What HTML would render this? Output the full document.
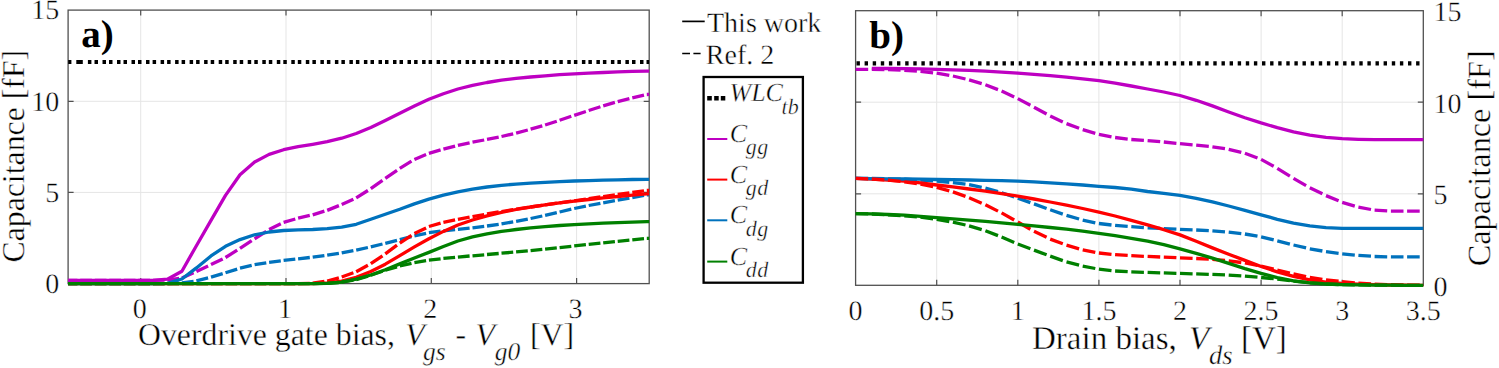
<!DOCTYPE html>
<html lang="en"><head><meta charset="utf-8"><title>Capacitance vs bias</title>
<style>html,body{margin:0;padding:0;background:#fff}svg{display:block}text{text-rendering:geometricPrecision;stroke:#fff;stroke-width:.4px;font-family:"Liberation Serif","Times New Roman",serif;fill:#000}.it{font-style:italic}.b{font-weight:bold;stroke:none}</style>
</head><body>
<svg width="1499" height="368" viewBox="0 0 1499 368">
<rect width="1499" height="368" fill="#fff"/>
<g id="panel-a">
<line x1="140.7" y1="10.1" x2="140.7" y2="283.6" stroke="#e5e5e5" stroke-width="1"/>
<line x1="286.0" y1="10.1" x2="286.0" y2="283.6" stroke="#e5e5e5" stroke-width="1"/>
<line x1="431.3" y1="10.1" x2="431.3" y2="283.6" stroke="#e5e5e5" stroke-width="1"/>
<line x1="576.6" y1="10.1" x2="576.6" y2="283.6" stroke="#e5e5e5" stroke-width="1"/>
<line x1="68.1" y1="192.4" x2="649.2" y2="192.4" stroke="#e5e5e5" stroke-width="1"/>
<line x1="68.1" y1="101.3" x2="649.2" y2="101.3" stroke="#e5e5e5" stroke-width="1"/>
<clipPath id="ca"><rect x="67.8" y="7.1" width="582.0" height="279.5"/></clipPath>
<rect x="68.1" y="10.1" width="581.1" height="273.5" fill="none" stroke="#505050" stroke-width="1.3"/>
<path d="M140.7,283.6v-5.5 M140.7,10.1v5.5" stroke="#505050" stroke-width="1.2"/>
<path d="M286.0,283.6v-5.5 M286.0,10.1v5.5" stroke="#505050" stroke-width="1.2"/>
<path d="M431.3,283.6v-5.5 M431.3,10.1v5.5" stroke="#505050" stroke-width="1.2"/>
<path d="M576.6,283.6v-5.5 M576.6,10.1v5.5" stroke="#505050" stroke-width="1.2"/>
<path d="M68.1,192.4h5.5 M649.2,192.4h-5.5" stroke="#505050" stroke-width="1.2"/>
<path d="M68.1,101.3h5.5 M649.2,101.3h-5.5" stroke="#505050" stroke-width="1.2"/>
<g clip-path="url(#ca)">
<path d="M68.2,62.0h3.2 M76.3,62.0h6.5 M87.9,62.0h3.5 M94.5,62.0h3.5 M102.5,62.0h3.5 M109.0,62.0h3.5 M117.0,62.0h3.5 M123.5,62.0h3.5 M131.5,62.0h3.5 M138.0,62.0h3.5 M146.0,62.0h3.5 M152.6,62.0h3.5 M160.6,62.0h3.5 M167.1,62.0h3.5 M175.1,62.0h3.5 M181.6,62.0h3.5 M189.6,62.0h3.5 M196.1,62.0h3.5 M204.1,62.0h3.5 M210.7,62.0h3.5 M218.7,62.0h3.5 M225.2,62.0h3.5 M233.2,62.0h3.5 M239.7,62.0h3.5 M247.7,62.0h3.5 M254.3,62.0h3.5 M262.3,62.0h3.5 M268.8,62.0h3.5 M276.8,62.0h3.5 M283.3,62.0h3.5 M291.3,62.0h3.5 M297.8,62.0h3.5 M305.8,62.0h3.5 M312.4,62.0h3.5 M320.4,62.0h3.5 M326.9,62.0h3.5 M334.9,62.0h3.5 M341.4,62.0h3.5 M349.4,62.0h3.5 M355.9,62.0h3.5 M363.9,62.0h3.5 M370.5,62.0h3.5 M378.5,62.0h3.5 M385.0,62.0h3.5 M393.0,62.0h3.5 M399.5,62.0h3.5 M407.5,62.0h3.5 M414.1,62.0h3.5 M422.1,62.0h3.5 M428.6,62.0h3.5 M436.6,62.0h3.5 M443.1,62.0h3.5 M451.1,62.0h3.5 M457.6,62.0h3.5 M465.6,62.0h3.5 M472.2,62.0h3.5 M480.2,62.0h3.5 M486.7,62.0h3.5 M494.7,62.0h3.5 M501.2,62.0h3.5 M509.2,62.0h3.5 M515.8,62.0h3.5 M523.8,62.0h3.5 M530.3,62.0h3.5 M538.3,62.0h3.5 M544.8,62.0h3.5 M552.8,62.0h3.5 M559.3,62.0h3.5 M567.3,62.0h3.5 M573.9,62.0h3.5 M581.9,62.0h3.5 M588.4,62.0h3.5 M596.4,62.0h3.5 M602.9,62.0h3.5 M610.9,62.0h3.5 M617.4,62.0h3.5 M625.4,62.0h3.5 M632.0,62.0h3.5 M640.0,62.0h3.5 M646.5,62.0h2.7" stroke="#000" stroke-width="4.1" fill="none"/>
<path d="M68.1,280.3 L77.4,280.3 M80.2,280.3 L91.9,280.3 M94.8,280.3 L106.5,280.3 M109.3,280.3 L121.0,280.3 M123.8,280.3 L135.5,280.3 M138.3,280.3 L150.0,280.3 M152.9,280.3 L164.6,280.2 M167.4,280.1 L179.1,278.4 M181.9,277.9 L193.6,272.8 M196.4,271.5 L208.1,265.9 M211.0,264.6 L222.7,258.9 M225.5,257.5 L237.2,250.1 M240.0,248.3 L251.7,240.6 M254.6,238.8 L266.3,231.4 M269.1,229.6 L280.8,223.8 M283.6,222.4 L295.3,219.0 M298.1,218.2 L309.8,215.4 M312.7,214.8 L324.4,211.2 M327.2,210.4 L338.9,205.6 M341.7,204.4 L353.4,199.2 M356.2,197.9 L367.9,190.5 M370.8,188.7 L382.5,180.4 M385.3,178.4 L397.0,170.3 M399.8,168.4 L411.5,161.2 M414.4,159.5 L426.1,154.6 M428.9,153.4 L440.6,149.9 M443.4,149.1 L455.1,146.1 M457.9,145.4 L469.6,142.8 M472.5,142.2 L484.2,140.0 M487.0,139.4 L498.7,137.1 M501.5,136.5 L513.2,133.8 M516.1,133.1 L527.8,130.0 M530.6,129.2 L542.3,125.8 M545.1,125.0 L556.8,121.2 M559.6,120.3 L571.3,116.3 M574.2,115.4 L585.9,111.5 M588.7,110.5 L600.4,106.8 M603.2,105.8 L614.9,102.4 M617.7,101.6 L629.4,98.6 M632.3,97.9 L644.0,95.2 M646.8,94.5 L649.2,94.4" fill="none" stroke="#BE00C2" stroke-width="3.3" stroke-linejoin="round"/>
<path d="M68.1,280.3 L80.2,280.3 L94.8,280.3 L109.3,280.3 L123.8,280.3 L138.3,280.3 L152.9,280.3 L167.4,279.2 L181.9,271.2 L196.4,245.7 L211.0,220.4 L225.5,195.4 L240.0,174.7 L254.6,162.0 L269.1,154.4 L283.6,149.7 L298.1,146.7 L312.7,144.3 L327.2,141.7 L341.7,138.2 L356.2,133.5 L370.8,127.5 L385.3,120.5 L399.8,113.2 L414.4,106.0 L428.9,99.3 L443.4,93.7 L457.9,89.0 L472.5,85.4 L487.0,82.5 L501.5,80.2 L516.1,78.4 L530.6,77.0 L545.1,75.8 L559.6,74.7 L574.2,73.9 L588.7,73.2 L603.2,72.5 L617.7,71.9 L632.3,71.4 L646.8,71.1 L649.2,71.1" fill="none" stroke="#BE00C2" stroke-width="3.3" stroke-linejoin="round"/>
<path d="M68.1,283.6 L77.4,283.6 M80.2,283.6 L91.9,283.6 M94.8,283.6 L106.5,283.6 M109.3,283.6 L121.0,283.6 M123.8,283.6 L135.5,283.6 M138.3,283.6 L150.0,283.6 M152.9,283.6 L164.6,283.6 M167.4,283.6 L179.1,283.1 M181.9,283.0 L193.6,281.3 M196.4,280.9 L208.1,277.9 M211.0,277.2 L222.7,273.6 M225.5,272.8 L237.2,269.1 M240.0,268.2 L251.7,265.4 M254.6,264.7 L266.3,262.8 M269.1,262.3 L280.8,260.8 M283.6,260.4 L295.3,259.1 M298.1,258.8 L309.8,257.5 M312.7,257.2 L324.4,255.6 M327.2,255.2 L338.9,253.3 M341.7,252.9 L353.4,250.7 M356.2,250.1 L367.9,247.5 M370.8,246.9 L382.5,244.0 M385.3,243.3 L397.0,240.4 M399.8,239.6 L411.5,236.6 M414.4,235.9 L426.1,233.4 M428.9,232.7 L440.6,231.2 M443.4,230.8 L455.1,229.7 M457.9,229.4 L469.6,228.1 M472.5,227.8 L484.2,226.3 M487.0,226.0 L498.7,224.3 M501.5,223.9 L513.2,221.9 M516.1,221.4 L527.8,219.1 M530.6,218.5 L542.3,216.0 M545.1,215.4 L556.8,212.6 M559.6,212.0 L571.3,209.2 M574.2,208.5 L585.9,206.1 M588.7,205.5 L600.4,203.3 M603.2,202.8 L614.9,200.7 M617.7,200.2 L629.4,198.1 M632.3,197.6 L644.0,195.4 M646.8,194.9 L649.2,194.8" fill="none" stroke="#0072BD" stroke-width="3.3" stroke-linejoin="round"/>
<path d="M68.1,283.6 L80.2,283.6 L94.8,283.6 L109.3,283.6 L123.8,283.6 L138.3,283.6 L152.9,283.6 L167.4,283.6 L181.9,283.6 L196.4,283.6 L211.0,283.6 L225.5,283.6 L240.0,283.6 L254.6,283.6 L269.1,283.6 L283.6,283.6 L298.1,283.6 L312.7,283.6 L327.2,283.0 L341.7,281.2 L356.2,277.3 L370.8,271.5 L385.3,264.2 L399.8,255.6 L414.4,246.9 L428.9,238.7 L443.4,231.4 L457.9,225.0 L472.5,220.0 L487.0,215.8 L501.5,212.3 L516.1,209.5 L530.6,207.0 L545.1,204.9 L559.6,202.9 L574.2,201.1 L588.7,199.5 L603.2,197.9 L617.7,196.5 L632.3,195.1 L646.8,193.9 L649.2,193.9" fill="none" stroke="#FF0000" stroke-width="3.3" stroke-linejoin="round"/>
<path d="M68.1,283.6 L80.2,283.6 L94.8,283.6 L109.3,283.6 L123.8,283.6 L138.3,283.6 L152.9,283.6 L167.4,283.3 L181.9,279.0 L196.4,267.9 L211.0,255.9 L225.5,246.3 L240.0,239.6 L254.6,234.8 L269.1,232.0 L283.6,230.5 L298.1,229.9 L312.7,229.5 L327.2,228.7 L341.7,227.2 L356.2,224.3 L370.8,219.2 L385.3,214.3 L399.8,209.3 L414.4,203.9 L428.9,199.1 L443.4,195.1 L457.9,191.9 L472.5,189.2 L487.0,187.0 L501.5,185.3 L516.1,184.1 L530.6,183.2 L545.1,182.4 L559.6,181.7 L574.2,181.0 L588.7,180.6 L603.2,180.2 L617.7,179.8 L632.3,179.5 L646.8,179.3 L649.2,179.3" fill="none" stroke="#0072BD" stroke-width="3.3" stroke-linejoin="round"/>
<path d="M68.1,283.6 L77.4,283.6 M80.2,283.6 L91.9,283.6 M94.8,283.6 L106.5,283.6 M109.3,283.6 L121.0,283.6 M123.8,283.6 L135.5,283.6 M138.3,283.6 L150.0,283.6 M152.9,283.6 L164.6,283.6 M167.4,283.6 L179.1,283.6 M181.9,283.6 L193.6,283.6 M196.4,283.6 L208.1,283.6 M211.0,283.6 L222.7,283.6 M225.5,283.6 L237.2,283.6 M240.0,283.6 L251.7,283.6 M254.6,283.6 L266.3,283.6 M269.1,283.6 L280.8,283.6 M283.6,283.6 L295.3,283.6 M298.1,283.6 L309.8,283.3 M312.7,283.2 L324.4,281.5 M327.2,281.1 L338.9,277.8 M341.7,277.0 L353.4,272.8 M356.2,271.7 L367.9,265.3 M370.8,263.7 L382.5,255.8 M385.3,253.8 L397.0,245.2 M399.8,243.1 L411.5,235.4 M414.4,233.6 L426.1,227.9 M428.9,226.5 L440.6,223.1 M443.4,222.3 L455.1,219.9 M457.9,219.3 L469.6,217.1 M472.5,216.6 L484.2,214.5 M487.0,214.0 L498.7,212.0 M501.5,211.6 L513.2,209.7 M516.1,209.2 L527.8,207.4 M530.6,207.0 L542.3,205.3 M545.1,204.9 L556.8,203.2 M559.6,202.8 L571.3,201.2 M574.2,200.8 L585.9,199.1 M588.7,198.7 L600.4,197.0 M603.2,196.6 L614.9,195.0 M617.7,194.5 L629.4,192.9 M632.3,192.5 L644.0,190.8 M646.8,190.4 L649.2,190.3" fill="none" stroke="#FF0000" stroke-width="3.3" stroke-linejoin="round"/>
<path d="M68.1,283.6 L77.4,283.6 M80.2,283.6 L91.9,283.6 M94.8,283.6 L106.5,283.6 M109.3,283.6 L121.0,283.6 M123.8,283.6 L135.5,283.6 M138.3,283.6 L150.0,283.6 M152.9,283.6 L164.6,283.6 M167.4,283.6 L179.1,283.6 M181.9,283.6 L193.6,283.6 M196.4,283.6 L208.1,283.6 M211.0,283.6 L222.7,283.6 M225.5,283.6 L237.2,283.6 M240.0,283.6 L251.7,283.6 M254.6,283.6 L266.3,283.6 M269.1,283.6 L280.8,283.6 M283.6,283.6 L295.3,283.6 M298.1,283.6 L309.8,283.6 M312.7,283.6 L324.4,283.4 M327.2,283.3 L338.9,282.5 M341.7,282.2 L353.4,280.2 M356.2,279.7 L367.9,276.1 M370.8,275.2 L382.5,271.2 M385.3,270.2 L397.0,266.8 M399.8,266.0 L411.5,263.3 M414.4,262.6 L426.1,260.6 M428.9,260.1 L440.6,258.8 M443.4,258.4 L455.1,257.3 M457.9,257.1 L469.6,256.0 M472.5,255.8 L484.2,254.8 M487.0,254.5 L498.7,253.5 M501.5,253.2 L513.2,252.2 M516.1,251.9 L527.8,250.8 M530.6,250.6 L542.3,249.4 M545.1,249.1 L556.8,247.9 M559.6,247.6 L571.3,246.3 M574.2,245.9 L585.9,244.7 M588.7,244.4 L600.4,243.2 M603.2,242.9 L614.9,241.6 M617.7,241.3 L629.4,240.2 M632.3,239.9 L644.0,238.7 M646.8,238.4 L649.2,238.4" fill="none" stroke="#008000" stroke-width="3.3" stroke-linejoin="round"/>
<path d="M68.1,283.6 L80.2,283.6 L94.8,283.6 L109.3,283.6 L123.8,283.6 L138.3,283.6 L152.9,283.6 L167.4,283.6 L181.9,283.6 L196.4,283.6 L211.0,283.6 L225.5,283.6 L240.0,283.6 L254.6,283.6 L269.1,283.6 L283.6,283.6 L298.1,283.6 L312.7,283.6 L327.2,283.3 L341.7,282.1 L356.2,279.2 L370.8,275.0 L385.3,269.8 L399.8,263.9 L414.4,258.0 L428.9,252.4 L443.4,246.5 L457.9,241.0 L472.5,236.9 L487.0,233.8 L501.5,231.4 L516.1,229.5 L530.6,227.9 L545.1,226.6 L559.6,225.5 L574.2,224.7 L588.7,223.9 L603.2,223.2 L617.7,222.6 L632.3,222.1 L646.8,221.7 L649.2,221.7" fill="none" stroke="#008000" stroke-width="3.3" stroke-linejoin="round"/>
</g>
<text x="59.3" y="292.9" font-size="28" text-anchor="end">0</text>
<text x="59.3" y="201.7" font-size="28" text-anchor="end">5</text>
<text x="59.3" y="110.6" font-size="28" text-anchor="end">10</text>
<text x="59.3" y="19.4" font-size="28" text-anchor="end">15</text>
<text x="139.7" y="317.9" font-size="28" text-anchor="middle">0</text>
<text x="285.0" y="317.9" font-size="28" text-anchor="middle">1</text>
<text x="430.3" y="317.9" font-size="28" text-anchor="middle">2</text>
<text x="575.6" y="317.9" font-size="28" text-anchor="middle">3</text>
<text transform="translate(24.4,156.2) rotate(-90)" font-size="31.8" text-anchor="middle">Capacitance [fF]</text>
<text x="138" y="345.3" font-size="31.8">Overdrive gate bias, <tspan class="it" x="405.3">V</tspan><tspan class="it" font-size="25.5" x="423" y="360">gs</tspan><tspan x="455.5" y="345.3">-</tspan><tspan class="it" x="475.6">V</tspan><tspan class="it" font-size="25.5" x="494.7" y="360">g0</tspan><tspan x="530" y="345.3">[V]</tspan></text>
<text x="81.2" y="46.5" font-size="39" class="b">a)</text>
</g>
<g id="legend">
<line x1="682.2" y1="21.4" x2="704.7" y2="21.4" stroke="#000" stroke-width="1.7"/>
<text x="707" y="32.2" font-size="28">This work</text>
<path d="M682.2,53.4h7.8 M693.4,53.4h7.2" stroke="#000" stroke-width="1.5"/>
<text x="705.8" y="64.2" font-size="28">Ref. 2</text>
<rect x="703.6" y="77" width="99.3" height="205.7" fill="#fff" stroke="#000" stroke-width="2.3"/>
<path d="M707.2,98.3h4.6 M714.2,98.3h4.5 M720.8,98.3h4.5" stroke="#000" stroke-width="4.6"/>
<text x="729.5" y="101" font-size="26" class="it">WLC<tspan font-size="22" x="781.6" y="113.7" letter-spacing="0">tb</tspan></text>
<line x1="707.2" y1="139.0" x2="727.3" y2="139.0" stroke="#BE00C2" stroke-width="2"/>
<text x="729.8" y="141.9" font-size="26" class="it">C<tspan font-size="22" x="745.8" y="154.3" letter-spacing="0.5">gg</tspan></text>
<line x1="707.2" y1="179.6" x2="727.3" y2="179.6" stroke="#FF0000" stroke-width="2"/>
<text x="729.8" y="182.5" font-size="26" class="it">C<tspan font-size="22" x="745.8" y="194.9" letter-spacing="0.5">gd</tspan></text>
<line x1="707.2" y1="220.3" x2="727.3" y2="220.3" stroke="#0072BD" stroke-width="2"/>
<text x="729.8" y="223.2" font-size="26" class="it">C<tspan font-size="22" x="745.8" y="235.6" letter-spacing="0.5">dg</tspan></text>
<line x1="707.2" y1="261.6" x2="727.3" y2="261.6" stroke="#008000" stroke-width="2"/>
<text x="729.8" y="264.5" font-size="26" class="it">C<tspan font-size="22" x="745.8" y="276.9" letter-spacing="0.5">dd</tspan></text>
</g>
<g id="panel-b">
<line x1="936.7" y1="10.7" x2="936.7" y2="285.3" stroke="#e5e5e5" stroke-width="1"/>
<line x1="1017.8" y1="10.7" x2="1017.8" y2="285.3" stroke="#e5e5e5" stroke-width="1"/>
<line x1="1098.9" y1="10.7" x2="1098.9" y2="285.3" stroke="#e5e5e5" stroke-width="1"/>
<line x1="1180.0" y1="10.7" x2="1180.0" y2="285.3" stroke="#e5e5e5" stroke-width="1"/>
<line x1="1261.1" y1="10.7" x2="1261.1" y2="285.3" stroke="#e5e5e5" stroke-width="1"/>
<line x1="1342.2" y1="10.7" x2="1342.2" y2="285.3" stroke="#e5e5e5" stroke-width="1"/>
<line x1="855.6" y1="193.8" x2="1423.3" y2="193.8" stroke="#e5e5e5" stroke-width="1"/>
<line x1="855.6" y1="102.2" x2="1423.3" y2="102.2" stroke="#e5e5e5" stroke-width="1"/>
<clipPath id="cb"><rect x="855.3000000000001" y="7.699999999999999" width="568.6" height="280.6"/></clipPath>
<rect x="855.6" y="10.7" width="567.7" height="274.6" fill="none" stroke="#505050" stroke-width="1.3"/>
<path d="M936.7,285.3v-5.5 M936.7,10.7v5.5" stroke="#505050" stroke-width="1.2"/>
<path d="M1017.8,285.3v-5.5 M1017.8,10.7v5.5" stroke="#505050" stroke-width="1.2"/>
<path d="M1098.9,285.3v-5.5 M1098.9,10.7v5.5" stroke="#505050" stroke-width="1.2"/>
<path d="M1180.0,285.3v-5.5 M1180.0,10.7v5.5" stroke="#505050" stroke-width="1.2"/>
<path d="M1261.1,285.3v-5.5 M1261.1,10.7v5.5" stroke="#505050" stroke-width="1.2"/>
<path d="M1342.2,285.3v-5.5 M1342.2,10.7v5.5" stroke="#505050" stroke-width="1.2"/>
<path d="M855.6,193.8h5.5 M1423.3,193.8h-5.5" stroke="#505050" stroke-width="1.2"/>
<path d="M855.6,102.2h5.5 M1423.3,102.2h-5.5" stroke="#505050" stroke-width="1.2"/>
<g clip-path="url(#cb)">
<path d="M856.5,63.4h3.4 M864.6,63.4h3.4 M872.7,63.4h3.4 M880.8,63.4h3.4 M888.9,63.4h3.4 M897.0,63.4h3.4 M905.2,63.4h3.4 M913.3,63.4h3.4 M921.4,63.4h3.4 M929.5,63.4h3.4 M937.6,63.4h3.4 M945.7,63.4h3.4 M953.8,63.4h3.4 M961.9,63.4h3.4 M970.0,63.4h3.4 M978.1,63.4h3.4 M986.3,63.4h3.4 M994.4,63.4h3.4 M1002.5,63.4h3.4 M1010.6,63.4h3.4 M1018.7,63.4h3.4 M1026.8,63.4h3.4 M1034.9,63.4h3.4 M1043.0,63.4h3.4 M1051.1,63.4h3.4 M1059.2,63.4h3.4 M1067.4,63.4h3.4 M1075.5,63.4h3.4 M1083.6,63.4h3.4 M1091.7,63.4h3.4 M1099.8,63.4h3.4 M1107.9,63.4h3.4 M1116.0,63.4h3.4 M1124.1,63.4h3.4 M1132.2,63.4h3.4 M1140.4,63.4h3.4 M1148.5,63.4h3.4 M1156.6,63.4h3.4 M1164.7,63.4h3.4 M1172.8,63.4h3.4 M1180.9,63.4h3.4 M1189.0,63.4h3.4 M1197.1,63.4h3.4 M1205.2,63.4h3.4 M1213.3,63.4h3.4 M1221.5,63.4h3.4 M1229.6,63.4h3.4 M1237.7,63.4h3.4 M1245.8,63.4h3.4 M1253.9,63.4h3.4 M1262.0,63.4h3.4 M1270.1,63.4h3.4 M1278.2,63.4h3.4 M1286.3,63.4h3.4 M1294.4,63.4h3.4 M1302.5,63.4h3.4 M1310.7,63.4h3.4 M1318.8,63.4h3.4 M1326.9,63.4h3.4 M1335.0,63.4h3.4 M1343.1,63.4h3.4 M1351.2,63.4h3.4 M1359.3,63.4h3.4 M1367.4,63.4h3.4 M1375.5,63.4h3.4 M1383.6,63.4h3.4 M1391.8,63.4h3.4 M1399.9,63.4h3.4 M1408.0,63.4h3.4 M1416.1,63.4h3.4" stroke="#000" stroke-width="4.1" fill="none"/>
<path d="M871.8,68.4 L888.0,68.5 L904.3,68.7 L920.5,68.9 L936.7,69.3 L952.9,69.8 L969.1,70.4 L985.4,71.2 L1001.6,72.1 L1017.8,73.1 L1034.0,74.3 L1050.2,75.7 L1066.5,77.2 L1082.7,78.8 L1098.9,80.7 L1115.1,83.2 L1131.3,86.0 L1147.6,89.0 L1163.8,92.0 L1180.0,95.5 L1196.2,100.3 L1212.4,105.9 L1228.7,112.0 L1244.9,117.7 L1261.1,122.9 L1277.3,127.7 L1293.5,131.9 L1309.8,135.1 L1326.0,137.4 L1342.2,138.7 L1358.4,139.3 L1374.6,139.6 L1390.9,139.6 L1407.1,139.6 L1423.3,139.6" fill="none" stroke="#BE00C2" stroke-width="3.3" stroke-linejoin="round"/>
<path d="M855.6,69.3 L868.2,69.4 M871.8,69.4 L884.4,69.7 M888.0,69.7 L900.6,70.2 M904.3,70.3 L916.9,71.1 M920.5,71.4 L933.1,72.8 M936.7,73.2 L949.3,75.4 M952.9,76.0 L965.5,79.0 M969.1,79.9 L981.7,83.7 M985.4,84.8 L998.0,89.6 M1001.6,91.0 L1014.2,96.9 M1017.8,98.6 L1030.4,105.3 M1034.0,107.2 L1046.6,114.0 M1050.2,115.9 L1062.8,121.9 M1066.5,123.6 L1079.1,128.3 M1082.7,129.7 L1095.3,133.3 M1098.9,134.3 L1111.5,136.8 M1115.1,137.5 L1127.7,139.1 M1131.3,139.5 L1143.9,140.4 M1147.6,140.6 L1160.2,141.7 M1163.8,142.0 L1176.4,143.3 M1180.0,143.7 L1192.6,144.8 M1196.2,145.1 L1208.8,146.4 M1212.4,146.8 L1225.0,148.7 M1228.7,149.3 L1241.3,152.3 M1244.9,153.2 L1257.5,158.0 M1261.1,159.4 L1273.7,166.3 M1277.3,168.3 L1289.9,176.1 M1293.5,178.4 L1306.1,185.6 M1309.8,187.7 L1322.4,193.8 M1326.0,195.6 L1338.6,200.8 M1342.2,202.3 L1354.8,206.1 M1358.4,207.1 L1371.0,209.5 M1374.6,210.2 L1387.2,210.9 M1390.9,211.1 L1403.5,211.1 M1407.1,211.2 L1419.7,211.2" fill="none" stroke="#BE00C2" stroke-width="3.3" stroke-linejoin="round"/>
<path d="M855.6,178.4 L868.2,178.5 M871.8,178.5 L884.4,178.7 M888.0,178.8 L900.6,179.1 M904.3,179.2 L916.9,179.8 M920.5,180.0 L933.1,180.9 M936.7,181.2 L949.3,182.3 M952.9,182.6 L965.5,184.2 M969.1,184.7 L981.7,187.3 M985.4,188.1 L998.0,191.7 M1001.6,192.7 L1014.2,196.9 M1017.8,198.1 L1030.4,202.6 M1034.0,203.9 L1046.6,208.5 M1050.2,209.8 L1062.8,214.1 M1066.5,215.3 L1079.1,219.0 M1082.7,220.1 L1095.3,222.8 M1098.9,223.5 L1111.5,225.0 M1115.1,225.4 L1127.7,226.4 M1131.3,226.7 L1143.9,227.6 M1147.6,227.8 L1160.2,228.4 M1163.8,228.6 L1176.4,229.1 M1180.0,229.3 L1192.6,229.8 M1196.2,230.0 L1208.8,230.7 M1212.4,230.9 L1225.0,231.9 M1228.7,232.2 L1241.3,233.6 M1244.9,234.0 L1257.5,236.2 M1261.1,236.8 L1273.7,239.9 M1277.3,240.8 L1289.9,244.1 M1293.5,245.0 L1306.1,247.9 M1309.8,248.8 L1322.4,251.0 M1326.0,251.7 L1338.6,253.3 M1342.2,253.8 L1354.8,255.1 M1358.4,255.4 L1371.0,256.2 M1374.6,256.5 L1387.2,256.8 M1390.9,256.8 L1403.5,256.9 M1407.1,256.9 L1419.7,256.9" fill="none" stroke="#0072BD" stroke-width="3.3" stroke-linejoin="round"/>
<path d="M855.6,178.4 L871.8,179.0 L888.0,180.0 L904.3,181.2 L920.5,182.9 L936.7,185.0 L952.9,186.9 L969.1,189.0 L985.4,191.2 L1001.6,193.6 L1017.8,196.2 L1034.0,199.0 L1050.2,202.0 L1066.5,205.1 L1082.7,208.5 L1098.9,212.1 L1115.1,216.0 L1131.3,220.3 L1147.6,224.9 L1163.8,229.7 L1180.0,234.9 L1196.2,241.3 L1212.4,247.9 L1228.7,254.2 L1244.9,260.4 L1261.1,266.5 L1277.3,271.9 L1293.5,276.3 L1309.8,279.8 L1326.0,282.1 L1342.2,283.4 L1358.4,284.2 L1374.6,284.7 L1390.9,285.0 L1407.1,285.2 L1423.3,285.3" fill="none" stroke="#FF0000" stroke-width="3.3" stroke-linejoin="round"/>
<path d="M855.6,178.4 L871.8,178.6 L888.0,178.8 L904.3,179.0 L920.5,179.2 L936.7,179.5 L952.9,179.7 L969.1,180.0 L985.4,180.3 L1001.6,180.7 L1017.8,181.2 L1034.0,181.9 L1050.2,182.8 L1066.5,183.8 L1082.7,185.0 L1098.9,186.3 L1115.1,187.5 L1131.3,189.2 L1147.6,191.5 L1163.8,193.4 L1180.0,195.4 L1196.2,198.3 L1212.4,201.9 L1228.7,206.0 L1244.9,210.4 L1261.1,214.8 L1277.3,219.3 L1293.5,223.2 L1309.8,225.9 L1326.0,227.6 L1342.2,228.3 L1358.4,228.4 L1374.6,228.4 L1390.9,228.4 L1407.1,228.4 L1423.3,228.4" fill="none" stroke="#0072BD" stroke-width="3.3" stroke-linejoin="round"/>
<path d="M855.6,178.4 L868.2,178.9 M871.8,179.0 L884.4,179.9 M888.0,180.2 L900.6,181.4 M904.3,181.8 L916.9,183.5 M920.5,184.1 L933.1,186.6 M936.7,187.3 L949.3,190.9 M952.9,191.9 L965.5,196.4 M969.1,197.8 L981.7,203.2 M985.4,204.7 L998.0,211.1 M1001.6,212.9 L1014.2,220.0 M1017.8,222.0 L1030.4,229.2 M1034.0,231.3 L1046.6,237.3 M1050.2,239.1 L1062.8,243.8 M1066.5,245.1 L1079.1,248.8 M1082.7,249.8 L1095.3,252.3 M1098.9,253.0 L1111.5,254.3 M1115.1,254.6 L1127.7,255.4 M1131.3,255.6 L1143.9,256.3 M1147.6,256.4 L1160.2,257.0 M1163.8,257.2 L1176.4,257.7 M1180.0,257.8 L1192.6,258.4 M1196.2,258.5 L1208.8,259.2 M1212.4,259.4 L1225.0,260.5 M1228.7,260.8 L1241.3,262.5 M1244.9,263.0 L1257.5,265.5 M1261.1,266.2 L1273.7,269.1 M1277.3,270.0 L1289.9,273.0 M1293.5,273.8 L1306.1,276.5 M1309.8,277.3 L1322.4,279.3 M1326.0,279.9 L1338.6,281.2 M1342.2,281.6 L1354.8,282.8 M1358.4,283.1 L1371.0,283.9 M1374.6,284.1 L1387.2,284.6 M1390.9,284.7 L1403.5,285.0 M1407.1,285.1 L1419.7,285.2" fill="none" stroke="#FF0000" stroke-width="3.3" stroke-linejoin="round"/>
<path d="M855.6,213.6 L868.2,213.9 M871.8,214.0 L884.4,214.6 M888.0,214.8 L900.6,215.6 M904.3,215.8 L916.9,216.9 M920.5,217.2 L933.1,218.8 M936.7,219.3 L949.3,221.5 M952.9,222.1 L965.5,225.0 M969.1,225.8 L981.7,229.6 M985.4,230.7 L998.0,235.6 M1001.6,237.0 L1014.2,242.5 M1017.8,244.0 L1030.4,248.7 M1034.0,250.1 L1046.6,254.8 M1050.2,256.1 L1062.8,260.6 M1066.5,261.9 L1079.1,265.2 M1082.7,266.2 L1095.3,268.5 M1098.9,269.2 L1111.5,270.6 M1115.1,271.0 L1127.7,271.7 M1131.3,271.9 L1143.9,272.3 M1147.6,272.4 L1160.2,272.8 M1163.8,272.9 L1176.4,273.3 M1180.0,273.4 L1192.6,273.8 M1196.2,273.9 L1208.8,274.3 M1212.4,274.4 L1225.0,274.9 M1228.7,275.1 L1241.3,275.9 M1244.9,276.1 L1257.5,277.2 M1261.1,277.5 L1273.7,278.7 M1277.3,279.1 L1289.9,280.6 M1293.5,281.1 L1306.1,282.4 M1309.8,282.8 L1322.4,283.7 M1326.0,284.0 L1338.6,284.5 M1342.2,284.7 L1354.8,284.9 M1358.4,284.9 L1371.0,285.1 M1374.6,285.1 L1387.2,285.2 M1390.9,285.2 L1403.5,285.3 M1407.1,285.3 L1419.7,285.3" fill="none" stroke="#008000" stroke-width="3.3" stroke-linejoin="round"/>
<path d="M855.6,213.6 L871.8,213.9 L888.0,214.5 L904.3,215.2 L920.5,216.3 L936.7,217.6 L952.9,218.8 L969.1,220.1 L985.4,221.4 L1001.6,222.8 L1017.8,224.3 L1034.0,225.9 L1050.2,227.5 L1066.5,229.2 L1082.7,231.2 L1098.9,233.3 L1115.1,235.7 L1131.3,238.3 L1147.6,241.2 L1163.8,244.7 L1180.0,248.9 L1196.2,253.3 L1212.4,258.1 L1228.7,263.4 L1244.9,268.6 L1261.1,273.4 L1277.3,277.6 L1293.5,280.8 L1309.8,282.8 L1326.0,284.0 L1342.2,284.7 L1358.4,284.9 L1374.6,285.1 L1390.9,285.2 L1407.1,285.3 L1423.3,285.3" fill="none" stroke="#008000" stroke-width="3.3" stroke-linejoin="round"/>
</g>
<text x="1433.4" y="295.8" font-size="28">0</text>
<text x="1433.4" y="204.3" font-size="28">5</text>
<text x="1433.4" y="112.7" font-size="28">10</text>
<text x="1433.4" y="21.2" font-size="28">15</text>
<text x="855.6" y="320" font-size="28" text-anchor="middle">0</text>
<text x="936.7" y="320" font-size="28" text-anchor="middle">0.5</text>
<text x="1017.8" y="320" font-size="28" text-anchor="middle">1</text>
<text x="1098.9" y="320" font-size="28" text-anchor="middle">1.5</text>
<text x="1180.0" y="320" font-size="28" text-anchor="middle">2</text>
<text x="1261.1" y="320" font-size="28" text-anchor="middle">2.5</text>
<text x="1342.2" y="320" font-size="28" text-anchor="middle">3</text>
<text x="1423.3" y="320" font-size="28" text-anchor="middle">3.5</text>
<text transform="translate(1490.3,158.3) rotate(-90)" font-size="32.3" text-anchor="middle">Capacitance [fF]</text>
<text x="1032" y="349.2" font-size="33">Drain bias, <tspan class="it" x="1189">V</tspan><tspan class="it" font-size="26.5" x="1209" y="363.8">ds</tspan><tspan x="1241" y="349.2">[V]</tspan></text>
<text x="869.2" y="47.6" font-size="39" class="b">b)</text>
</g>
</svg>
</body></html>
